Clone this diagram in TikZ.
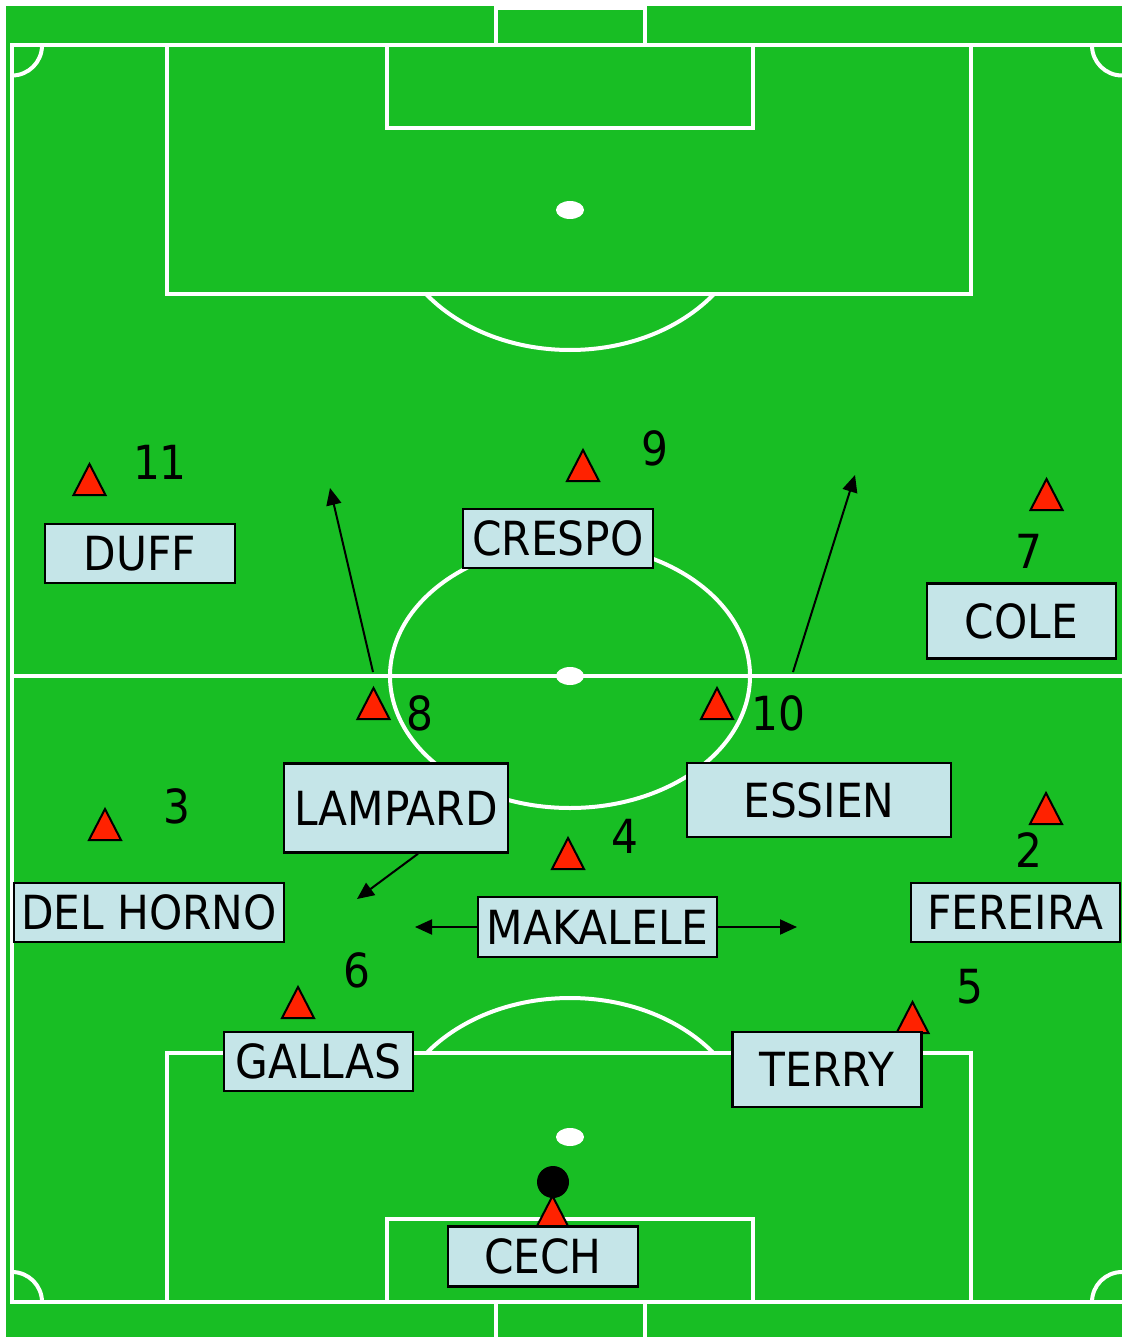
\documentclass[tikz,border=0pt]{standalone}
\usepackage{fontspec}
\setmainfont{DejaVu Sans Condensed}
\usetikzlibrary{positioning,arrows.meta}
\definecolor{pitch}{RGB}{24,190,36}
\definecolor{boxblue}{RGB}{197,229,232}
\definecolor{plrred}{RGB}{255,34,0}
\begin{document}
\begin{tikzpicture}[x=1pt,y=-1pt,
    line/.style={draw=white,line width=4pt},
    plrbox/.style={draw=black,line width=2.5pt,fill=boxblue,minimum height=59pt,inner sep=0pt,font=\fontsize{47}{50}\selectfont},
    num/.style={inner sep=0pt,font=\fontsize{47}{50}\selectfont},
    run/.style={-{Triangle[length=17pt,width=15pt]},line width=2pt},
    plr/.pic={\filldraw[fill=plrred,draw=black,line width=2pt] (-16,0) -- (0,-31) -- (16,0) -- cycle;}
]
    \useasboundingbox (0,0) rectangle (1122,1337);
    \fill[white] (0,0) rectangle (1122,1337);
    \fill[pitch] (6,6) rectangle (1122,1337);

    % pitch markings
    \draw[line] (12,45.5) rectangle (1124,1302);
    \draw[line] (12,676) -- (1124,676);
    \draw[line] (570,676) ellipse[x radius=180,y radius=132];
    \draw[line] (495.5,8.5) rectangle (644.5,45.5);
    \draw[line] (167,45.5) rectangle (971,294.5);
    \draw[line] (387,45.5) rectangle (753,128);
    \draw[line] (495.5,1302) -- (495.5,1340) (644.5,1302) -- (644.5,1340);
    \draw[line] (167,1053) rectangle (971,1302);
    \draw[line] (387,1219) rectangle (753,1302);
    \foreach \y in {210,676,1137}
        \fill[white] (570,\y) ellipse[x radius=14,y radius=9];
    \begin{scope}
        \clip (0,294.5) rectangle (1122,400);
        \draw[line] (570,210) ellipse[x radius=180,y radius=140];
    \end{scope}
    \begin{scope}
        \clip (0,950) rectangle (1122,1053);
        \draw[line] (570,1137) ellipse[x radius=180,y radius=139];
    \end{scope}
    \begin{scope}
        \clip (12,45.5) rectangle (1122,1302);
        \foreach \cx/\cy in {12/45.5,1122/45.5,12/1302,1122/1302}
            \draw[line] (\cx,\cy) circle[radius=30];
    \end{scope}

    % players
    \foreach \px/\py in {89.5/495,583/481,1046.5/510,373.5/719,717/719,105/840,
                         568/869,1046/824,298/1018,912.5/1033,552.5/1227}
        \pic at (\px,\py) {plr};
    \fill[black] (553,1182) circle[radius=16];

    \node[num] (n11) at (160,462) {11};
    \node[num] (n9) at (655,448) {9};
    \node[num] (n7) at (1029,551) {7};
    \node[num] (n8) at (420,713) {8};
    \node[num] (n10) at (778,713) {10};
    \node[num] (n3) at (177,806) {3};
    \node[num] (n4) at (625,836) {4};
    \node[num] (n2) at (1029,850) {2};
    \node[num] (n6) at (357,970) {6};
    \node[num] (n5) at (970,987) {5};

    \node[plrbox,minimum width=190pt] (duff) at (140,553.5) {DUFF};
    \node[plrbox,minimum width=190pt] (crespo) at (558,538.5) {CRESPO};
    \node[plrbox,minimum width=189pt,minimum height=75pt] (cole) at (1021.5,621) {COLE};
    \node[plrbox,minimum width=224pt,minimum height=89pt] (lampard) at (396,808) {LAMPARD};
    \node[plrbox,minimum width=264pt,minimum height=74pt] (essien) at (819,800) {ESSIEN};
    \node[plrbox,minimum width=270pt] (delhorno) at (149,912.5) {DEL HORNO};
    \node[plrbox,minimum width=239pt,minimum height=60pt] (makalele) at (597.5,927) {MAKALELE};
    \node[plrbox,minimum width=209pt] (fereira) at (1015.5,912.5) {FEREIRA};
    \node[plrbox,minimum width=189pt] (gallas) at (318.5,1061.5) {GALLAS};
    \node[plrbox,minimum width=189pt,minimum height=75pt] (terry) at (827,1069.5) {TERRY};
    \node[plrbox,minimum width=190pt,minimum height=60pt] (cech) at (543,1256.5) {CECH};

    % runs
    \coordinate (start8) at (373,672);
    \coordinate (end8) at (330,488);
    \coordinate (start10) at (793,672);
    \coordinate (end10) at (855,475);
    \coordinate (endlamp) at (357,899);
    \coordinate (left4) at (415,927);
    \coordinate (right4) at (797,927);
    \draw[run] (start8) -- (end8);
    \draw[run] (start10) -- (end10);
    \draw[run] ([xshift=22pt]lampard.south) -- (endlamp);
    \draw[run] (makalele.west) -- (left4);
    \draw[run] (makalele.east) -- (right4);
\end{tikzpicture}
\end{document}
